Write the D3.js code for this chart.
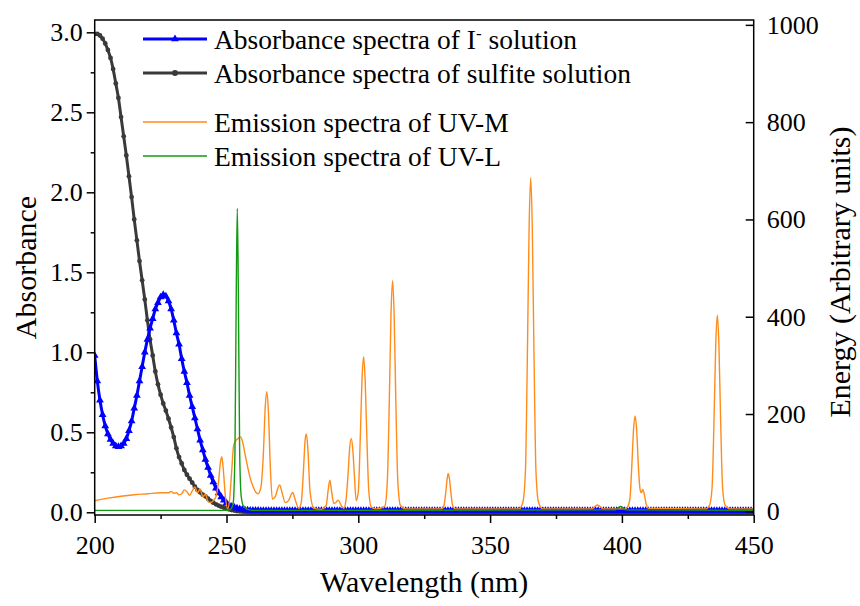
<!DOCTYPE html>
<html><head><meta charset="utf-8">
<script src="https://cdn.jsdelivr.net/npm/d3@7"></script>
<style>
body{margin:0;background:#fff}
svg{display:block}
text{font-family:'Liberation Serif','DejaVu Serif','Times New Roman',Times,serif;fill:#000}
</style>
</head><body>
<svg id="chart" width="860" height="606"></svg>
<script>
// ---------------- DATA ----------------
// absorbance wavelengths (1 nm step, 200..450)
const absWavelengths = d3.range(200, 451, 1);

// Absorbance of I- solution (left axis)
const iodideAbs = [
0.98,0.82,0.70,0.61,0.54,0.49,0.455,0.43,0.415,0.41,
0.415,0.43,0.46,0.51,0.57,0.65,0.73,0.82,0.91,1.00,
1.08,1.15,1.21,1.27,1.31,1.345,1.36,1.35,1.32,1.27,
1.20,1.12,1.05,0.96,0.88,0.81,0.73,0.66,0.59,0.52,
0.45,0.39,0.33,0.28,0.23,0.19,0.15,0.12,0.095,0.075,
0.058,0.046,0.037,0.03,0.025,0.021,0.017,0.015,0.013,0.012,
0.011,0.011,0.011,0.01,0.01,0.01,0.01,0.01,0.01,0.01,
0.01,0.01,0.01,0.01,0.01,0.01,0.01,0.01,0.01,0.01,
0.01,0.01,0.01,0.01,0.01,0.01,0.01,0.01,0.01,0.01,
0.01,0.01,0.01,0.01,0.01,0.01,0.01,0.01,0.01,0.01,
0.01,0.01,0.01,0.01,0.01,0.01,0.01,0.01,0.01,0.01,
0.01,0.01,0.01,0.01,0.01,0.01,0.01,0.01,0.01,0.01,
0.01,0.01,0.01,0.01,0.01,0.01,0.01,0.01,0.01,0.01,
0.01,0.01,0.01,0.01,0.01,0.01,0.01,0.01,0.01,0.01,
0.01,0.01,0.01,0.01,0.01,0.01,0.01,0.01,0.01,0.01,
0.01,0.01,0.01,0.01,0.01,0.01,0.01,0.01,0.01,0.01,
0.01,0.01,0.01,0.01,0.01,0.01,0.01,0.01,0.01,0.01,
0.01,0.01,0.01,0.01,0.01,0.01,0.01,0.01,0.01,0.01,
0.01,0.01,0.01,0.01,0.01,0.01,0.01,0.01,0.01,0.01,
0.01,0.01,0.01,0.01,0.01,0.01,0.01,0.01,0.01,0.01,
0.01,0.01,0.01,0.01,0.01,0.01,0.01,0.01,0.01,0.01,
0.01,0.01,0.01,0.01,0.01,0.01,0.01,0.01,0.01,0.01,
0.01,0.01,0.01,0.01,0.01,0.01,0.01,0.01,0.01,0.01,
0.01,0.01,0.01,0.01,0.01,0.01,0.01,0.01,0.01,0.01,
0.01,0.01,0.01,0.01,0.01,0.01,0.01,0.01,0.01,0.01,
0.01
];

// Absorbance of sulfite solution (left axis)
const sulfiteAbs = [
2.99,2.99,2.98,2.96,2.93,2.89,2.84,2.77,2.68,2.59,
2.47,2.35,2.23,2.10,1.97,1.83,1.70,1.57,1.45,1.33,
1.20,1.08,0.98,0.88,0.80,0.735,0.68,0.635,0.585,0.53,
0.47,0.40,0.345,0.305,0.265,0.235,0.21,0.185,0.16,0.14,
0.125,0.11,0.10,0.085,0.072,0.06,0.05,0.042,0.035,0.03,
0.024,0.018,0.014,0.011,0.008,0.006,0.005,0.004,0.003,0.002,
0.001,0.001,0.001,0,0,0,0,0,0,0,
0,0,0,0,0,0,0,0,0,0,
0,0,0,0,0,0,0,0,0,0,
0,0,0,0,0,0,0,0,0,0,
0,0,0,0,0,0,0,0,0,0,
0,0,0,0,0,0,0,0,0,0,
0,0,0,0,0,0,0,0,0,0,
0,0,0,0,0,0,0,0,0,0,
0,0,0,0,0,0,0,0,0,0,
0,0,0,0,0,0,0,0,0,0,
0,0,0,0,0,0,0,0,0,0,
0,0,0,0,0,0,0,0,0,0,
0,0,0,0,0,0,0,0,0,0,
0,0,0,0,0,0,0,0,0,0,
0,0,0,0,0,0,0,0,0,0,
0,0,0,0,0,0,0,0,0,0,
0,0,0,0,0,0,0,0,0,0,
0,0,0,0,0,0,0,0,0,0,
0,0,0,0,0,0,0,0,0,0,
0
];

// Emission spectrum of UV-M lamp (right axis): [wavelength, energy]
const emissionUVM = [
[200,22],[205,27],[210,31],[215,34],[220,36],[225,38],[228,38],[229,41],[230,37],[231,38],
[232,34],[233,36],[234,44],[235,40],[236,33],[237,42],[238,50],[239,38],[240,46],[241,30],
[242,35],[243,20],[244,18],[245,22],[246,30],[247,62],[247.7,100],[248.2,112],[248.8,85],[249.5,35],
[250.4,5],[251.2,25],[252,85],[252.7,135],[253.5,145],[254.5,150],[255.3,153],[256,145],[257,118],[258,92],
[259,68],[260,52],[261,40],[262,36],[263,48],[264,120],[264.7,215],[265.3,246],[265.9,205],[266.6,95],
[267.4,25],[268.5,30],[269.5,48],[270.2,54],[271,40],[272.3,18],[273.5,22],[274.5,34],[275.1,39],[276,25],
[277.4,6],[278.4,20],[279.3,95],[279.8,145],[280.3,159],[280.9,125],[281.7,40],[283.2,6],[286,4],[287.8,12],
[288.6,45],[289.2,64],[289.9,40],[290.7,16],[291.6,19],[292.4,23],[293.3,14],[294.5,6],[295.3,22],[296.1,75],
[296.7,128],[297.3,150],[297.9,128],[298.5,75],[299.2,22],[300,40],[300.8,160],[301.4,270],[302,318],[302.6,270],
[303.2,160],[304,40],[305,8],[307,5],[310,10],[311,60],[311.8,237],[312.4,403],[313,474],[313.6,403],
[314.2,237],[315,60],[316,12],[318,5],[331.5,5],[332.5,12],[333.2,40],[333.7,66],[334.1,78],[334.6,66],
[335.1,40],[335.8,12],[336.8,5],[361,5],[362.4,18],[363.4,82],[364.2,343],[364.8,583],[365.4,686],[366,583],[366.6,343],
[367.4,82],[368.4,18],[370,5],[388.5,5],[389.8,10],[390.7,13],[391.6,10],[393,5],[401,5],[402,8],[403,24],
[403.8,98],[404.4,167],[405,196],[405.6,167],[406.2,98],[406.9,45],[407.4,38],[407.9,45],[408.5,35],[409.2,15],
[410.2,6],[431.8,5],[433.2,12],[434.2,48],[435,200],[435.6,343],[436.2,403],[436.8,343],[437.4,200],[438.2,48],[439.2,12],
[441,5],[450,5]
];

// Emission spectrum of UV-L lamp (right axis): [wavelength, energy]
const emissionUVL = [
[200,2],[250,2],[251.5,4],[252.5,15],[253.2,120],[253.7,450],[254.1,623],[254.5,450],[255,120],[255.6,30],
[256.5,10],[258,4],[260,2],[397.5,3],[398.5,7],[399.5,10],[400.5,7],[401.5,3],[450,2]
];

const xTicks = [200, 250, 300, 350, 400, 450];
const xMinorTicks = [225, 275, 325, 375, 425];
const yLeftTicks = [0, 0.5, 1.0, 1.5, 2.0, 2.5, 3.0];
const yLeftMinorTicks = [0.25, 0.75, 1.25, 1.75, 2.25, 2.75];
const yRightTicks = [0, 200, 400, 600, 800, 1000];

const seriesNames = [
  "Absorbance spectra of I",
  "Absorbance spectra of sulfite solution",
  "Emission spectra of UV-M",
  "Emission spectra of UV-L"
];
const colors = ["#0000ff", "#3a3a3a", "#ff8c1a", "#129a12"];

// ---------------- CHART ----------------
const FONT = "'Liberation Serif','DejaVu Serif','Times New Roman',Times,serif";
const svg = d3.select("#chart");
const L = 94.7, R = 753.7, T = 20, B = 515;

const x = d3.scaleLinear().domain([200, 450]).range([L, R]);
const yL = d3.scaleLinear().domain([-0.0169, 3.077]).range([B, T]);
const yR = d3.scaleLinear().domain([-7.6, 1010]).range([B, T]);

svg.append("defs").append("clipPath").attr("id", "clip")
  .append("rect").attr("x", L).attr("y", T - 2).attr("width", R - L).attr("height", B - T + 2);

const plot = svg.append("g").attr("clip-path", "url(#clip)");

const absLine = d3.line().x(d => x(d[0])).y(d => yL(d[1])).curve(d3.curveMonotoneX);
const emLine = d3.line().x(d => x(d[0])).y(d => yR(d[1])).curve(d3.curveMonotoneX);

const sulfite = absWavelengths.map((w, i) => [w, sulfiteAbs[i]]);
const iodide = absWavelengths.map((w, i) => [w, iodideAbs[i]]);

// sulfite (black, circles)
plot.append("path").datum(sulfite).attr("d", absLine)
  .attr("fill", "none").attr("stroke", colors[1]).attr("stroke-width", 3);
plot.append("g").selectAll("circle").data(sulfite).join("circle")
  .attr("cx", d => x(d[0])).attr("cy", d => yL(d[1])).attr("r", 2.4)
  .attr("fill", colors[1]);

// iodide (blue, triangles)
plot.append("path").datum(iodide).attr("d", absLine)
  .attr("fill", "none").attr("stroke", colors[0]).attr("stroke-width", 3);
const tri = d3.symbol().type(d3.symbolTriangle).size(26);
plot.append("g").selectAll("path").data(iodide).join("path")
  .attr("d", tri).attr("transform", d => `translate(${x(d[0])},${yL(d[1])})`)
  .attr("fill", colors[0]);

// emission spectra
plot.append("path").datum(emissionUVM).attr("d", emLine)
  .attr("fill", "none").attr("stroke", colors[2]).attr("stroke-width", 1.4);
plot.append("path").datum(emissionUVL).attr("d", emLine)
  .attr("fill", "none").attr("stroke", colors[3]).attr("stroke-width", 1.4);

// ---------------- AXES ----------------
const fontTick = 26;

svg.append("g").attr("transform", `translate(0,${B})`)
  .call(d3.axisBottom(x).tickValues(xTicks).tickSize(8).tickPadding(13).tickFormat(d3.format("d")));
svg.append("g").attr("transform", `translate(0,${B})`)
  .call(d3.axisBottom(x).tickValues(xMinorTicks).tickSize(4).tickFormat(""));

svg.append("g").attr("transform", `translate(${L},0)`)
  .call(d3.axisLeft(yL).tickValues(yLeftTicks).tickSize(8).tickPadding(4).tickFormat(d3.format(".1f")));
svg.append("g").attr("transform", `translate(${L},0)`)
  .call(d3.axisLeft(yL).tickValues(yLeftMinorTicks).tickSize(4).tickFormat(""));

svg.append("g").attr("transform", `translate(${R},0)`)
  .call(d3.axisRight(yR).tickValues(yRightTicks).tickSizeInner(-8).tickSizeOuter(0).tickPadding(13).tickFormat(d3.format("d")));

svg.selectAll(".domain").remove();
svg.selectAll(".tick line").attr("stroke", "#000").attr("stroke-width", 1.5);
svg.selectAll(".tick text").attr("font-size", fontTick)
  .attr("font-family", FONT).attr("fill", "#000");

// frame
svg.append("rect").attr("x", L).attr("y", T).attr("width", R - L).attr("height", B - T)
  .attr("fill", "none").attr("stroke", "#000").attr("stroke-width", 1.5);

// axis titles
svg.append("text").attr("x", (L + R) / 2).attr("y", 592).attr("text-anchor", "middle")
  .attr("font-family", FONT).attr("font-size", 30).text("Wavelength (nm)");
svg.append("text").attr("transform", `translate(36,${(T + B) / 2}) rotate(-90)`)
  .attr("font-family", FONT).attr("text-anchor", "middle").attr("font-size", 30).text("Absorbance");
svg.append("text").attr("transform", `translate(850,272) rotate(-90)`)
  .attr("font-family", FONT).attr("text-anchor", "middle").attr("font-size", 30).text("Energy (Arbitrary units)");

// ---------------- LEGEND ----------------
const legendRows = [
  {y: 39, w: 3, marker: "tri"},
  {y: 73, w: 3, marker: "circle"},
  {y: 122, w: 1.6, marker: null},
  {y: 156, w: 1.6, marker: null}
];
const lg = svg.append("g");
legendRows.forEach((r, i) => {
  lg.append("line").attr("x1", 143).attr("x2", 207).attr("y1", r.y).attr("y2", r.y)
    .attr("stroke", colors[i]).attr("stroke-width", r.w);
  if (r.marker === "tri") {
    lg.append("path").attr("d", tri).attr("transform", `translate(175,${r.y})`).attr("fill", colors[i]);
  } else if (r.marker === "circle") {
    lg.append("circle").attr("cx", 175).attr("cy", r.y).attr("r", 3).attr("fill", colors[i]);
  }
  const t = lg.append("text").attr("x", 214).attr("y", r.y + 10)
    .attr("font-family", FONT).attr("font-size", 27.5);
  if (i === 0) {
    t.append("tspan").text(seriesNames[0]);
    t.append("tspan").attr("dy", -10).attr("font-size", 17).text("-");
    t.append("tspan").attr("dy", 10).attr("font-size", 27.5).text(" solution");
  } else {
    t.text(seriesNames[i]);
  }
});
</script>
</body></html>
